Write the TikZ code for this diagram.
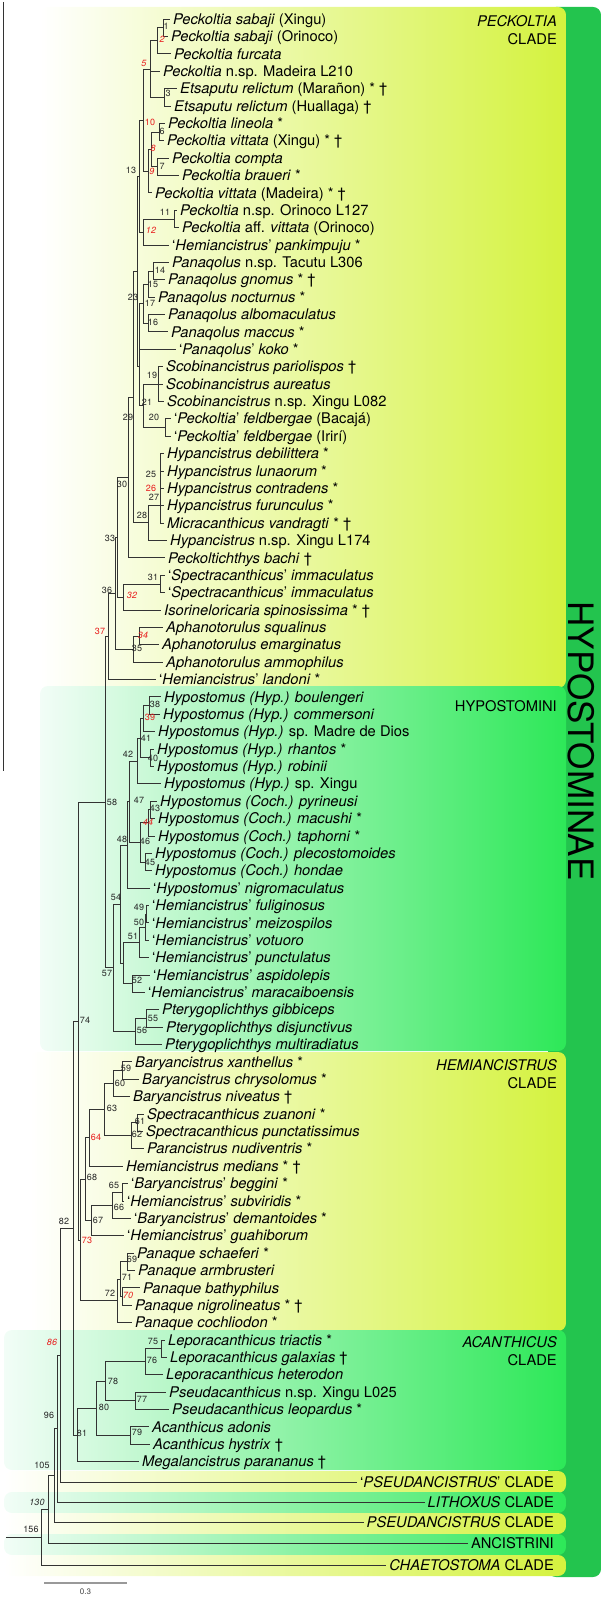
\documentclass[tikz,border=0pt]{standalone}
\usepackage{fontspec}
\setmainfont{TeX Gyre Heros}
\usetikzlibrary{positioning}
\definecolor{hypgreen}{RGB}{35,196,78}
\definecolor{yelright}{RGB}{212,242,62}
\definecolor{yelmid}{RGB}{238,250,182}
\definecolor{grnright}{RGB}{45,232,88}
\definecolor{grnmid}{RGB}{160,248,172}
\definecolor{grnleft}{RGB}{242,253,247}
\definecolor{numred}{RGB}{232,28,28}

\begin{document}
\begin{tikzpicture}[x=1pt, y=-1pt,
  every node/.style={font=\fontsize{14.7}{18}\selectfont},
  %% taxon label, text starts just right of the branch tip
  tx/.style={anchor=west, inner xsep=3pt, inner ysep=0pt,
    text height=10.5pt, text depth=0pt},
  %% collapsed clade, right-aligned to the panel edge
  cl/.style={anchor=east, inner xsep=3pt, inner ysep=0pt,
    text height=10.5pt, text depth=0pt},
  %% node number
  nn/.style={font=\fontsize{9}{10}\selectfont, inner sep=0pt, text=black!85},
  %% node number, red italic
  nr/.style={nn, font=\fontsize{9}{10}\selectfont\itshape, text=numred},
  %% node number, red upright
  nu/.style={nn, text=numred},
  %% tree branch
  br/.style={draw=black!80, line width=0.7pt},
  %% panel heading, right-aligned
  hd/.style={anchor=east, align=right, inner sep=0pt},
  %% coloured clade panels
  yp/.style={left color=white, middle color=yelmid, right color=yelright,
    rounded corners=8pt},
  gp/.style={left color=grnleft, middle color=grnmid, right color=grnright,
    rounded corners=8pt},
]
\useasboundingbox (0,0) rectangle (601,1597);

%%── Subfamily bar and clade panels ─────────────────────────────────────────
\fill[hypgreen, rounded corners=8pt] (548,7) rectangle (601,1577);
\shade[yp] (40,7)    rectangle (566,688);
\shade[gp] (40,686)  rectangle (566,1051);
\shade[yp] (30,1052) rectangle (566,1331);
\shade[gp] (4,1330)  rectangle (566,1470);
\shade[yp] (4,1471)  rectangle (566,1493);
\shade[gp] (4,1492)  rectangle (566,1513);
\shade[yp] (4,1513)  rectangle (566,1534);
\shade[gp] (4,1534)  rectangle (566,1555);
\shade[yp] (4,1555)  rectangle (566,1576);

\draw[black!80, line width=0.6pt] (3,2) -- (3,771);

%%── Panel headings ─────────────────────────────────────────────────────────
\node[hd] (pkh) at (557,30)   {\textit{PECKOLTIA}\\CLADE};
\node[hd] (hyh) at (557,706)  {HYPOSTOMINI};
\node[hd] (hmh) at (557,1074) {\textit{HEMIANCISTRUS}\\CLADE};
\node[hd] (ach) at (557,1351) {\textit{ACANTHICUS}\\CLADE};
\node[font=\fontsize{35}{40}\selectfont, rotate=-90, inner sep=0pt]
  (sub) at (581,741) {HYPOSTOMINAE};

%%── Tips (row i sits at y = 19 + 17.38(i-1)) ───────────────────────────────
\foreach \i/\x/\t in {
  1/173/{\textit{Peckoltia sabaji} (Xingu)},
  2/171/{\textit{Peckoltia sabaji} (Orinoco)},
  3/174/{\textit{Peckoltia furcata}},
  4/163/{\textit{Peckoltia} n.sp. Madeira L210},
  5/180/{\textit{Etsaputu relictum} (Marañon) * †},
  6/174/{\textit{Etsaputu relictum} (Huallaga) †},
  7/168/{\textit{Peckoltia lineola} *},
  8/167/{\textit{Peckoltia vittata} (Xingu) * †},
  9/172/{\textit{Peckoltia compta}},
  10/182/{\textit{Peckoltia braueri} *},
  11/155/{\textit{Peckoltia vittata} (Madeira) * †},
  12/180/{\textit{Peckoltia} n.sp. Orinoco L127},
  13/182/{\textit{Peckoltia} aff. \textit{vittata} (Orinoco)},
  14/172/{‘\textit{Hemiancistrus}’ \textit{pankimpuju} *},
  15/172/{\textit{Panaqolus} n.sp. Tacutu L306},
  16/168/{\textit{Panaqolus gnomus} * †},
  17/158/{\textit{Panaqolus nocturnus} *},
  18/168/{\textit{Panaqolus albomaculatus}},
  19/171/{\textit{Panaqolus maccus} *},
  20/179/{‘\textit{Panaqolus}’ \textit{koko} *},
  21/166/{\textit{Scobinancistrus pariolispos} †},
  22/166/{\textit{Scobinancistrus aureatus}},
  23/167/{\textit{Scobinancistrus} n.sp. Xingu L082},
  24/174/{‘\textit{Peckoltia}’ \textit{feldbergae} (Bacajá)},
  25/174/{‘\textit{Peckoltia}’ \textit{feldbergae} (Irirí)},
  26/167/{\textit{Hypancistrus debilittera} *},
  27/167/{\textit{Hypancistrus lunaorum} *},
  28/167/{\textit{Hypancistrus contradens} *},
  29/167/{\textit{Hypancistrus furunculus} *},
  30/167/{\textit{Micracanthicus vandragti} * †},
  31/170/{\textit{Hypancistrus} n.sp. Xingu L174},
  32/168/{\textit{Peckoltichthys bachi} †},
  33/168/{‘\textit{Spectracanthicus}’ \textit{immaculatus}},
  34/168/{‘\textit{Spectracanthicus}’ \textit{immaculatus}},
  35/164/{\textit{Isorineloricaria spinosissima} * †},
  36/166/{\textit{Aphanotorulus squalinus}},
  37/162/{\textit{Aphanotorulus emarginatus}},
  38/166/{\textit{Aphanotorulus ammophilus}},
  39/159/{‘\textit{Hemiancistrus}’ \textit{landoni} *},
  40/164/{\textit{Hypostomus (Hyp.) boulengeri}},
  41/163/{\textit{Hypostomus (Hyp.) commersoni}},
  42/158/{\textit{Hypostomus (Hyp.)} sp. Madre de Dios},
  43/157/{\textit{Hypostomus (Hyp.) rhantos} *},
  44/157/{\textit{Hypostomus (Hyp.) robinii}},
  45/164/{\textit{Hypostomus (Hyp.)} sp. Xingu},
  46/160/{\textit{Hypostomus (Coch.) pyrineusi}},
  47/158/{\textit{Hypostomus (Coch.) macushi} *},
  48/158/{\textit{Hypostomus (Coch.) taphorni} *},
  49/155/{\textit{Hypostomus (Coch.) plecostomoides}},
  50/155/{\textit{Hypostomus (Coch.) hondae}},
  51/153/{‘\textit{Hypostomus}’ \textit{nigromaculatus}},
  52/152/{‘\textit{Hemiancistrus}’ \textit{fuliginosus}},
  53/152/{‘\textit{Hemiancistrus}’ \textit{meizospilos}},
  54/152/{‘\textit{Hemiancistrus}’ \textit{votuoro}},
  55/152/{‘\textit{Hemiancistrus}’ \textit{punctulatus}},
  56/153/{‘\textit{Hemiancistrus}’ \textit{aspidolepis}},
  57/148/{‘\textit{Hemiancistrus}’ \textit{maracaiboensis}},
  58/162/{\textit{Pterygoplichthys gibbiceps}},
  59/166/{\textit{Pterygoplichthys disjunctivus}},
  60/165/{\textit{Pterygoplichthys multiradiatus}},
  61/135/{\textit{Baryancistrus xanthellus} *},
  62/142/{\textit{Baryancistrus chrysolomus} *},
  63/133/{\textit{Baryancistrus niveatus} †},
  64/147/{\textit{Spectracanthicus zuanoni} *},
  65/146/{\textit{Spectracanthicus punctatissimus}},
  66/147/{\textit{Parancistrus nudiventris} *},
  67/126/{\textit{Hemiancistrus medians} * †},
  68/131/{‘\textit{Baryancistrus}’ \textit{beggini} *},
  69/127/{‘\textit{Hemiancistrus}’ \textit{subviridis} *},
  70/134/{‘\textit{Baryancistrus}’ \textit{demantoides} *},
  71/127/{‘\textit{Hemiancistrus}’ \textit{guahiborum}},
  72/137/{\textit{Panaque schaeferi} *},
  73/138/{\textit{Panaque armbrusteri}},
  74/143/{\textit{Panaque bathyphilus}},
  75/135/{\textit{Panaque nigrolineatus} * †},
  76/135/{\textit{Panaque cochliodon} *},
  77/168/{\textit{Leporacanthicus triactis} *},
  78/170/{\textit{Leporacanthicus galaxias} †},
  79/166/{\textit{Leporacanthicus heterodon}},
  80/169/{\textit{Pseudacanthicus} n.sp. Xingu L025},
  81/172/{\textit{Pseudacanthicus leopardus} *},
  82/152/{\textit{Acanthicus adonis}},
  83/153/{\textit{Acanthicus hystrix} †},
  84/142/{\textit{Megalancistrus parananus} †}}
  \node[tx] (t\i) at ({\x-3},{19+(\i-1)*17.38}) {\t};

%% collapsed clades at the foot
\foreach \i/\y/\t in {
  85/1482/{‘\textit{PSEUDANCISTRUS}’ CLADE},
  86/1502/{\textit{LITHOXUS} CLADE},
  87/1522/{\textit{PSEUDANCISTRUS} CLADE},
  88/1543/{ANCISTRINI},
  89/1565/{\textit{CHAETOSTOMA} CLADE}}
  \node[cl] (t\i) at (557,\y) {\t};

%%── Internal nodes ─────────────────────────────────────────────────────────
\foreach \n/\x/\y in {
  1/163/27.7, 2/157/40.7, 3/164/97.2, 5/150/69.0, 6/159/132.0,
  7/157/166.7, 8/151/149.4, 9/148/171.1, 10/143/120.0, 11/174/218.9,
  12/143/231.9, 13/139/176.0, 14/153/271.0, 15/148/284.0, 16/148/323.2,
  17/143/303.6, 18/139/326.4, 19/158/384.0, 20/165/427.4, 21/143/405.7,
  22/139/366.1, 23/137/271.0, 27/160/505.0, 28/148/522.7, 29/133/396.9,
  30/128/477.3, 31/160/583.9, 32/123/596.9, 33/117/537.1, 34/139/636.0,
  35/133/649.0, 36/115/593.1, 37/108/636.3,
  38/149/705.5, 39/143/718.5, 40/150/757.7, 41/140/738.1, 42/137/760.9,
  43/150/809.8, 44/148/822.8, 45/145/861.9, 46/140/842.4, 47/129/801.7,
  48/127/844.9, 49/146/914.1, 50/145/927.1, 51/139/942.3, 52/132/983.6,
  53/123/963.0, 54/120/904.0, 55/146/1018.4, 56/135/1031.4, 57/113/967.7,
  58/105/802.0,
  59/122/1070.5, 60/113/1083.5, 61/137/1122.6, 62/131/1135.7, 63/104/1109.6,
  64/89/1137.8, 65/122/1192.2, 66/112/1205.2, 67/91/1220.4, 68/85/1179.1,
  69/127/1261.7, 70/122/1296.4, 71/120/1279.1, 72/117/1300.8, 73/80/1240.0,
  74/78/1021.0,
  75/161/1348.6, 76/145/1361.6, 77/135/1400.7, 78/105/1381.2, 79/130/1435.5,
  80/96/1408.3, 81/77/1434.9, 82/73/1228.0, 86/60/1355.0, 96/57/1428.5,
  105/54/1475.3, 130/48/1509.1, 156/41/1537.1}
  \coordinate (n\n) at (\x,\y);
\coordinate (root) at (6,1537.1);

%%── Branches to tips ───────────────────────────────────────────────────────
\foreach \p/\c in {
  n1/t1, n1/t2, n2/t3, n5/t4, n3/t5, n3/t6, n6/t7, n6/t8, n7/t9, n7/t10,
  n9/t11, n11/t12, n11/t13, n12/t14, n14/t15, n14/t16, n15/t17, n16/t18,
  n16/t19, n18/t20, n19/t21, n19/t22, n19/t23, n20/t24, n20/t25, n27/t26,
  n27/t27, n27/t28, n27/t29, n27/t30, n28/t31, n30/t32, n31/t33, n31/t34,
  n32/t35, n34/t36, n34/t37, n35/t38, n37/t39,
  n38/t40, n38/t41, n39/t42, n40/t43, n40/t44, n42/t45, n43/t46, n43/t47,
  n44/t48, n45/t49, n45/t50, n48/t51, n49/t52, n49/t53, n50/t54, n51/t55,
  n52/t56, n52/t57, n55/t58, n55/t59, n56/t60,
  n59/t61, n59/t62, n60/t63, n61/t64, n61/t65, n62/t66, n64/t67, n65/t68,
  n65/t69, n66/t70, n67/t71, n69/t72, n69/t73, n70/t74, n70/t75, n72/t76,
  n75/t77, n75/t78, n76/t79, n77/t80, n77/t81, n79/t82, n79/t83, n81/t84,
  n86/t85, n96/t86, n105/t87, n130/t88, n156/t89}
  \draw[br] (\p) |- (\c.west);

%%── Branches between internal nodes ────────────────────────────────────────
\foreach \p/\c in {
  n2/n1, n5/n2, n5/n3, n8/n6, n8/n7, n9/n8, n10/n5, n10/n9, n12/n11,
  n13/n10, n13/n12, n15/n14, n17/n15, n17/n16, n18/n17, n21/n19, n21/n20,
  n22/n18, n22/n21, n23/n13, n23/n22, n28/n27, n29/n23, n29/n28, n30/n29,
  n32/n31, n33/n30, n33/n32, n35/n34, n36/n33, n36/n35, n37/n36, n58/n37,
  n39/n38, n41/n39, n41/n40, n42/n41, n44/n43, n46/n44, n46/n45, n47/n42,
  n47/n46, n48/n47, n50/n49, n51/n50, n53/n51, n53/n52, n54/n48, n54/n53,
  n56/n55, n57/n54, n57/n56, n58/n57, n74/n58,
  n60/n59, n62/n61, n63/n60, n63/n62, n64/n63, n66/n65, n67/n66, n68/n64,
  n68/n67, n71/n69, n71/n70, n72/n71, n73/n68, n73/n72, n74/n73, n82/n74,
  n76/n75, n78/n76, n78/n77, n80/n78, n80/n79, n81/n80, n82/n81, n86/n82,
  n96/n86, n105/n96, n130/n105, n156/n130}
  \draw[br] (\p) |- (\c);
\draw[br] (root) -- (n156);

%%── Node numbers ───────────────────────────────────────────────────────────
\foreach \n/\x/\y in {
  1/166/26, 3/168/93, 6/162/131, 7/162/166, 11/165/212, 13/131/170,
  14/160/270, 15/153/284, 16/153/322, 17/150/303, 19/152/375, 20/154/417,
  21/147/402, 23/133/297, 25/151/474, 27/154/497, 28/142/515, 29/128/417,
  30/122/484, 31/153/577, 33/110/538, 35/137/648, 36/107/590,
  38/155/704, 40/153/758, 41/146/738, 42/128/754, 43/155/808, 45/150/862,
  46/145/841, 47/139/800, 48/122/839, 49/139/907, 50/139/922, 51/133/936,
  52/137/980, 54/116/897, 55/153/1018, 56/142/1030, 57/107/973, 58/112/802,
  59/126/1068, 60/120/1083, 61/140/1121, 62/137/1134, 63/112/1108,
  65/114/1185, 66/119/1207, 67/98/1220, 68/92/1177, 69/132/1259,
  71/127/1277, 72/110/1293, 74/85/1020, 75/153/1341, 76/152/1360,
  77/142/1399, 78/113/1381, 79/137/1432, 80/104/1407, 81/82/1433,
  82/64/1221, 96/49/1415, 105/42/1465, 156/31/1529}
  \node[nn] (l\n) at (\x,\y) {\n};
\foreach \n/\x/\y in {
  2/162/39, 5/144/63, 8/153/148, 9/152/171, 12/151/230, 32/132/595,
  34/143/635, 44/148/822, 70/128/1295, 86/52/1342}
  \node[nr] (l\n) at (\x,\y) {\n};
\foreach \n/\x/\y in {
  10/150/122, 26/151/488, 37/100/631, 39/150/717, 64/96/1137, 73/87/1240}
  \node[nu] (l\n) at (\x,\y) {\n};
\node[nn, font=\fontsize{9}{10}\selectfont\itshape] (l130) at (37,1502) {130};

%%── Scale bar ──────────────────────────────────────────────────────────────
\coordinate (sbl) at (44,1583);
\coordinate (sbr) at (127,1583);
\draw[black!40, line width=1.3pt] (sbl) -- (sbr)
  node[midway, below=5pt, inner sep=0pt, font=\fontsize{8}{9}\selectfont,
       text=black!75] (sbt) {0.3};

\end{tikzpicture}
\end{document}
